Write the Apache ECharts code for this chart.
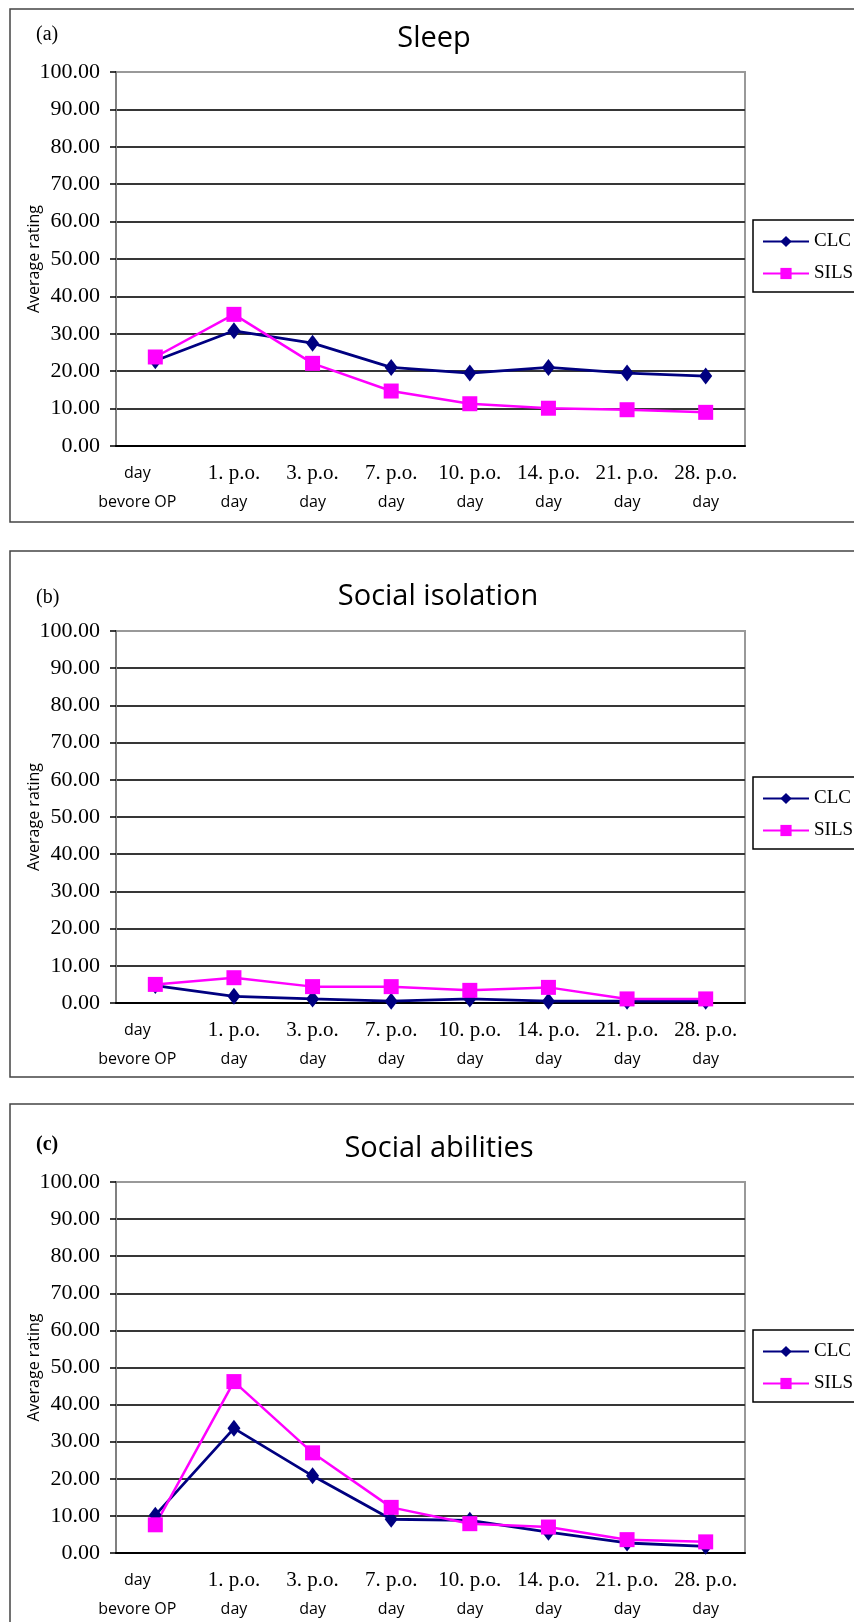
<!DOCTYPE html>
<html>
<head>
<meta charset="utf-8">
<script src="https://cdn.jsdelivr.net/npm/echarts@6/dist/echarts.min.js"></script>
<style>
  html, body { margin: 0; padding: 0; background: #fff; }
  #chart { width: 854px; height: 1622px; }
</style>
</head>
<body>
<div id="chart"></div>
<script>
// categories on x axis
var days = ['day bevore OP', '1. p.o. day', '3. p.o. day', '7. p.o. day', '10. p.o. day', '14. p.o. day', '21. p.o. day', '28. p.o. day'];
var seriesNames = ['CLC', 'SILS'];
var panelTitles = ['Sleep', 'Social isolation', 'Social abilities'];
var panelTags = ['(a)', '(b)', '(c)'];

// average rating per panel
var sleepCLC = [22.8, 30.8, 27.5, 21.0, 19.5, 21.0, 19.5, 18.7];
var sleepSILS = [23.8, 35.2, 22.1, 14.7, 11.3, 10.1, 9.7, 9.0];
var isolationCLC = [4.7, 1.8, 1.1, 0.5, 1.1, 0.5, 0.5, 0.5];
var isolationSILS = [5.0, 6.8, 4.4, 4.4, 3.4, 4.2, 1.1, 1.1];
var abilitiesCLC = [10.2, 33.6, 20.8, 9.1, 8.8, 5.6, 2.7, 1.8];
var abilitiesSILS = [7.6, 46.2, 27.0, 12.3, 7.9, 7.0, 3.6, 3.0];

var clcData = [sleepCLC, isolationCLC, abilitiesCLC];
var silsData = [sleepSILS, isolationSILS, abilitiesSILS];

// layout of the three panels
var gridTop = [72, 631, 1182];
var gridHeight = [374, 372, 371];
var frameTop = [9, 551, 1104];
var frameHeight = [513, 526, 600];
var titleTop = [19, 577, 1129];
var titleLeft = [429, 433, 434];
var tagY = [35, 598, 1145];
var legendTop = [220, 777, 1330];

var chart = echarts.init(document.getElementById('chart'));

var grids = [], xAxes = [], yAxes = [], series = [], titles = [], legends = [], graphics = [];

// 100 line is the gray plot border, the others are dark
var splitColors = [];
for (var k = 0; k < 10; k++) splitColors.push('#363636');
splitColors.push('#999');

for (var i = 0; i < 3; i++) {
  grids.push({
    left: 116, right: 109, top: gridTop[i], height: gridHeight[i],
    show: true, borderColor: '#999', borderWidth: 2
  });
  xAxes.push({
    type: 'category',
    gridIndex: i,
    data: days,
    boundaryGap: true,
    axisLine: { lineStyle: { color: '#000', width: 2 } },
    axisTick: { length: 7, lineStyle: { color: '#000', width: 1.5 } },
    axisLabel: {
      interval: 0,
      margin: 13,
      formatter: function (v, idx) {
        if (idx === 0) return '{f|day}\n{f|bevore OP}';
        return '{s|' + v.replace(/ day$/, '') + '}\n{d|day}';
      },
      rich: {
        s: { fontFamily: 'Liberation Serif', fontSize: 21, lineHeight: 29, color: '#000' },
        d: { fontFamily: 'Open Sans', fontSize: 16, lineHeight: 29, color: '#000' },
        f: { fontFamily: 'Open Sans', fontSize: 16, lineHeight: 29, color: '#000', padding: [0, 36, 0, 0] }
      }
    }
  });
  yAxes.push({
    type: 'value',
    gridIndex: i,
    min: 0, max: 100, interval: 10,
    name: 'Average rating',
    nameLocation: 'middle',
    nameGap: 74,
    nameMoveOverlap: false,
    nameTextStyle: { fontFamily: 'Open Sans', fontSize: 16, color: '#000' },
    axisLine: { show: true, lineStyle: { color: '#808080', width: 2 } },
    axisTick: { show: true, length: 6, lineStyle: { color: '#000', width: 1.5 } },
    axisLabel: {
      margin: 16,
      fontFamily: 'Liberation Serif', fontSize: 22, color: '#000',
      formatter: function (v) { return v.toFixed(2); }
    },
    splitLine: { show: true, lineStyle: { color: splitColors, width: 2 } }
  });
  series.push({
    name: 'CLC', type: 'line', xAxisIndex: i, yAxisIndex: i,
    data: clcData[i],
    color: '#000080',
    symbol: 'diamond', symbolSize: [13, 17],
    lineStyle: { width: 2.8 }
  });
  series.push({
    name: 'SILS', type: 'line', xAxisIndex: i, yAxisIndex: i,
    data: silsData[i],
    color: '#FF00FF',
    symbol: 'rect', symbolSize: 15,
    lineStyle: { width: 2.5 }
  });
  titles.push({
    text: panelTitles[i],
    left: titleLeft[i], top: titleTop[i], textAlign: 'center',
    textStyle: { fontFamily: 'Open Sans', fontSize: 29, fontWeight: 'normal', color: '#000' }
  });
  legends.push({
    data: seriesNames,
    orient: 'vertical',
    left: 753, top: legendTop[i],
    borderColor: '#000', borderWidth: 1.5,
    padding: [12, 24, 9, 9],
    itemGap: 13, itemWidth: 46, itemHeight: 14, itemTextGap: 3,
    textStyle: { fontFamily: 'Liberation Serif', fontSize: 19, color: '#000' }
  });
  graphics.push({
    type: 'rect',
    shape: { x: 10, y: frameTop[i], width: 900, height: frameHeight[i] },
    style: { fill: 'none', stroke: '#444', lineWidth: 1.5 },
    silent: true
  });
  graphics.push({
    type: 'text',
    x: 36, y: tagY[i],
    style: {
      text: panelTags[i],
      font: (i === 2 ? 'bold ' : '') + '20px "Liberation Serif"',
      fill: '#000',
      verticalAlign: 'middle'
    },
    silent: true
  });
}

var option = {
  animation: false,
  backgroundColor: '#fff',
  title: titles,
  legend: legends,
  grid: grids,
  xAxis: xAxes,
  yAxis: yAxes,
  series: series,
  graphic: graphics
};
chart.setOption(option);
</script>
</body>
</html>
